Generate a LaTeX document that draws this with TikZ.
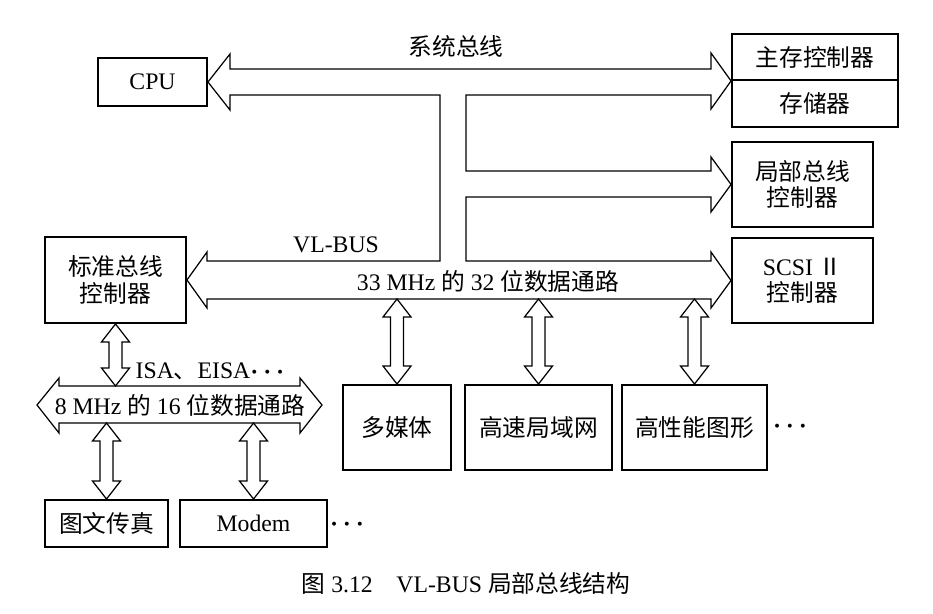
\documentclass[tikz,border=0pt]{standalone}
\usepackage{bm}
\usepackage{fontspec}
\setmainfont{Liberation Serif}
\newfontfamily\cjk{Noto Sans CJK SC}
\usepackage{tikz}
\usetikzlibrary{calc,positioning}
\newcommand{\zh}[1]{{\cjk #1}}
\newcommand{\bsize}{\fontsize{13.5}{15}\selectfont}
\newcommand{\mdots}{$\bm{\cdots}$}
% hollow double arrow between a top point and a bottom point
\newcommand{\vlink}[2]{%
  \draw[fat] let \p1=#1, \p2=#2 in
    (\x1,\y1) -- ++(0.28cm,-0.36cm) -- ++(-0.15cm,0)
    -- (\x1+0.13cm,\y2+0.36cm) -- ++(0.15cm,0) -- (\x1,\y2)
    -- ++(-0.28cm,0.36cm) -- ++(0.15cm,0)
    -- (\x1-0.13cm,\y1-0.36cm) -- ++(-0.15cm,0) -- cycle;}
\tikzset{
  blk/.style={draw=black, line width=1.1pt, inner sep=0pt, align=center,
              font=\bsize\cjk},
  blkl/.style={blk, font=\bsize\rmfamily},
  fat/.style={draw=black, line width=0.7pt, line join=miter, fill=white},
  lbl/.style={inner sep=1pt},
}

\begin{document}
\begin{tikzpicture}[x=0.02cm,y=-0.02cm,font=\bsize]
  \useasboundingbox (0,0) rectangle (933,614);

  % cpu and memory
  \node[blkl, minimum width=2.18cm, minimum height=0.96cm] (cpu) at (152.5,82) {CPU};
  \node[blk, minimum width=3.32cm, minimum height=0.92cm] (mc) at (815,57) {主存控制器};
  \node[blk, minimum width=3.32cm, minimum height=0.94cm] (mem) at (815,103.5) {存储器};

  % controllers on the right
  \node[blk, minimum width=2.82cm, minimum height=1.70cm] (lbc) at (802.5,184.5) {局部总线\\控制器};
  \node[blk, minimum width=2.82cm, minimum height=1.70cm] (scsi) at (802.5,280.5)
       {{\rmfamily SCSI} Ⅱ\\控制器};

  % standard bus controller
  \node[blk, minimum width=2.82cm, minimum height=1.72cm] (std) at (115.5,280) {标准总线\\控制器};

  % devices on the vl-bus
  \node[blk, minimum width=2.16cm, minimum height=1.70cm] (mm) at (397,427.5) {多媒体};
  \node[blk, minimum width=2.94cm, minimum height=1.70cm] (lan) at (538.5,427.5) {高速局域网};
  \node[blk, minimum width=2.90cm, minimum height=1.70cm] (gfx) at (694.5,427.5) {高性能图形};
  \node[lbl] (more1) at (790,427) {\mdots};

  % devices on the isa bus
  \node[blk, minimum width=2.46cm, minimum height=0.94cm] (fax) at (106.5,523.5) {图文传真};
  \node[blkl, minimum width=2.94cm, minimum height=0.94cm] (modem) at (253.5,523.5) {Modem};
  \node[lbl] (more2) at (347,525) {\mdots};

  % system bus with branches and vl-bus
  \draw[fat] (cpu.east) -- (230,54) -- (230,69) -- (711,69) -- (711,53) -- (mc.south west)
    -- (711,109) -- (711,95) -- (466,95) -- (466,171) -- (711,171) -- (711,157) -- (lbc.west)
    -- (711,212) -- (711,197) -- (466,197) -- (466,261) -- (711,261) -- (711,252) -- (scsi.west)
    -- (711,308) -- (711,299) -- (207,299) -- (207,308) -- (std.east) -- (207,252) -- (207,261)
    -- (440,261) -- (440,95) -- (230,95) -- (230,110) -- cycle;
  \coordinate (vlb) at (0,299);

  % isa bus
  \draw[fat] (37,405) -- (59,378) -- (59,386) -- (300,386) -- (300,378) -- (322,405)
    -- (300,433) -- (300,423) -- (59,423) -- (59,433) -- cycle;
  \coordinate (isat) at (0,386);
  \coordinate (isab) at (0,423);

  \node[lbl] (sysbus) at (456,46) {\zh{系统总线}};
  \node[lbl] (vlbus) at (336,245) {VL-BUS};
  \node[lbl] (vlpath) at (488,281) {33 MHz \zh{的} 32 \zh{位数据通路}};
  \node[lbl] (isalbl) at (210,371) {ISA\zh{、}EISA\mdots};
  \node[lbl] (isapath) at (180,405) {8 MHz \zh{的} 16 \zh{位数据通路}};

  % links
  \vlink{(mm.north |- vlb)}{(mm.north)}
  \vlink{(lan.north |- vlb)}{(lan.north)}
  \vlink{(gfx.north |- vlb)}{(gfx.north)}
  \vlink{(std.south)}{(std.south |- isat)}
  \vlink{(fax.north |- isab)}{(fax.north)}
  \vlink{(modem.north |- isab)}{(modem.north)}

  % caption
  \node[lbl] (caption) at (466,583) {\zh{图} 3.12\quad VL-BUS \zh{局部总线结构}};
\end{tikzpicture}
\end{document}
